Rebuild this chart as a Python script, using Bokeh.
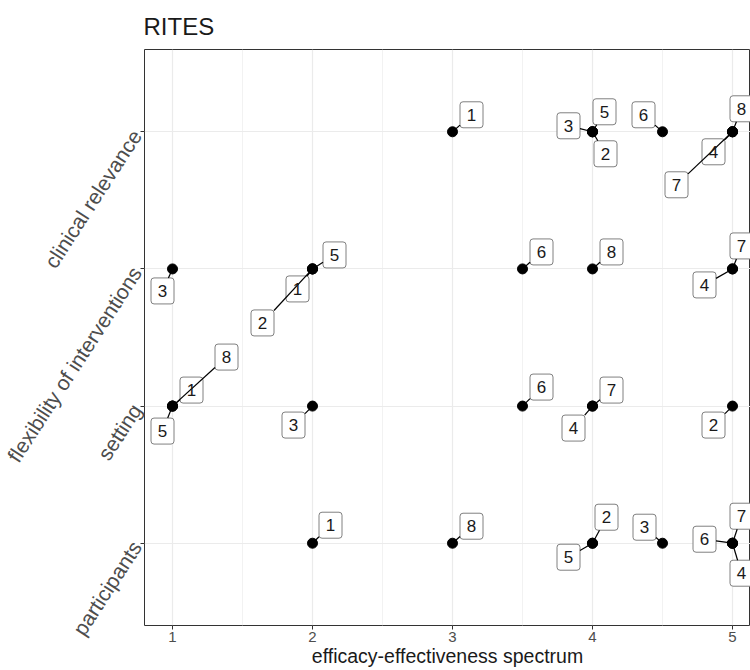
import math
from bokeh.plotting import figure
from bokeh.models import ColumnDataSource, FixedTicker, Range1d
from bokeh.core.properties import value
from bokeh.embed import file_html
from bokeh.resources import INLINE

# ---------------- data ----------------
title_text = "RITES"
x_label = "efficacy-effectiveness spectrum"
domains = ["participants", "setting", "flexibility of interventions", "clinical relevance"]
studies = ["1", "2", "3", "4", "5", "6", "7", "8"]
x_ticks = [1, 2, 3, 4, 5]

participants = [2, 4, 4.5, 5, 4, 5, 5, 3]
setting = [1, 5, 2, 4, 1, 3.5, 4, 1]
flexibility = [2, 2, 1, 5, 2, 3.5, 5, 4]
clinical = [3, 4, 4, 5, 4, 4.5, 5, 5]

# label nudges (screen pixels, right / down) as placed by the repel layout
nudge_participants = [(18, -18), (14, -26), (-18, -16), (9, 30), (-24, 14), (-28, -4), (9, -27), (19, -17)]
nudge_setting = [(19, -16), (-19, 19), (-19, 19), (-19, 22), (-10, 25), (19, -19), (19, -16), (54, -49)]
nudge_flexibility = [(-15, 20), (-50, 54), (-10, 22), (-28, 16), (22, -14), (19, -17), (9, -23), (19, -17)]
nudge_clinical = [(19, -17), (13, 22), (-24, -6), (-19, 20), (12, -20), (-19, -17), (-56, 53), (9, -23)]

# ---------------- layout ----------------
PANEL_LEFT = 144          # where the panel should start on the page
ML, MR, MT, MB = 160, 0, 48, 46
SHIFT = ML - PANEL_LEFT
FW, FH = 606, 576
X0, X1 = 0.8, 0.8 + FW / 140.0
Y0, Y1 = 0.4, 4.6
kx = FW / (X1 - X0)
ky = FH / (Y1 - Y0)
BW, BH = 23, 26
GRAY20 = "#333333"

series = [participants, setting, flexibility, clinical]
nudges = [nudge_participants, nudge_setting, nudge_flexibility, nudge_clinical]
yvals = [i + 1 for i in range(len(domains))]

px, py, lx, ly, lab, sx0, sy0, sx1, sy1 = [], [], [], [], [], [], [], [], []
for yv, vals, nud in zip(yvals, series, nudges):
    for s, v, (dx, dy) in zip(studies, vals, nud):
        px.append(v)
        py.append(yv)
        lx.append(v + dx / kx)
        ly.append(yv - dy / ky)
        lab.append(s)
        f = min((BW / 2) / abs(dx) if dx else 1e9, (BH / 2) / abs(dy) if dy else 1e9)
        t = 1 - f
        if t > 0:
            sx0.append(v)
            sy0.append(yv)
            sx1.append(v + t * dx / kx)
            sy1.append(yv - t * dy / ky)

pts = ColumnDataSource(dict(x=px, y=py))
labs = ColumnDataSource(dict(x=lx, y=ly, text=lab))
segs = ColumnDataSource(dict(x0=sx0, y0=sy0, x1=sx1, y1=sy1))

p = figure(frame_width=FW, frame_height=FH, output_backend="svg", toolbar_location=None,
           x_range=Range1d(X0, X1), y_range=Range1d(Y0, Y1),
           min_border_left=ML, min_border_right=MR, min_border_top=MT, min_border_bottom=MB,
           title=title_text, styles={"margin-left": f"-{SHIFT}px"})
p.title.text_font = "Liberation Sans"
p.title.text_font_size = "24px"
p.title.text_font_style = "normal"
p.title.text_color = "#1a1a1a"
p.title.offset = -1
p.title.standoff = 20

p.outline_line_color = GRAY20
p.outline_line_width = 1
p.background_fill_color = "white"
p.border_fill_color = "white"

p.xaxis.ticker = FixedTicker(ticks=x_ticks, minor_ticks=[1.5, 2.5, 3.5, 4.5])
p.yaxis.ticker = FixedTicker(ticks=yvals)
p.yaxis.major_label_overrides = {y: d for y, d in zip(yvals, domains)}
p.xaxis.axis_label = x_label
for ax in (p.xaxis, p.yaxis):
    ax.axis_line_color = None
    ax.major_tick_line_color = GRAY20
    ax.major_tick_in = 0
    ax.major_tick_out = 4
    ax.minor_tick_line_color = None
    ax.major_label_text_font = "Liberation Sans"
    ax.major_label_text_color = "#4d4d4d"
p.xaxis.major_label_text_font_size = "15px"
p.xaxis.major_label_standoff = 2
p.xaxis.axis_label_text_font = "Liberation Sans"
p.xaxis.axis_label_text_font_size = "19.5px"
p.xaxis.axis_label_text_font_style = "normal"
p.xaxis.axis_label_text_color = "#1a1a1a"
p.xaxis.axis_label_standoff = 0
p.yaxis.major_label_text_font_size = "21px"
p.yaxis.major_label_orientation = math.radians(57)
p.yaxis.major_label_standoff = 4

p.xgrid.grid_line_color = "#ebebeb"
p.xgrid.grid_line_width = 1.2
p.xgrid.minor_grid_line_color = "#f2f2f2"
p.xgrid.minor_grid_line_width = 1
p.ygrid.grid_line_color = "#ebebeb"
p.ygrid.grid_line_width = 1.2

p.rect(x="x", y="y", width=BW, height=BH, width_units="screen", height_units="screen",
       source=labs, fill_color="white", line_color="#808080", line_width=1, border_radius=3)
p.segment(x0="x0", y0="y0", x1="x1", y1="y1", source=segs, line_color="black", line_width=1.2)
p.text(x="x", y="y", text="text", source=labs, text_align="center", text_baseline="middle",
       text_font=value("Liberation Sans"), text_font_size="17px", text_color="#1a1a1a")
p.scatter(x="x", y="y", source=pts, size=10, fill_color="black", line_color="black")

open("out.html", "w").write(file_html(p, INLINE))
